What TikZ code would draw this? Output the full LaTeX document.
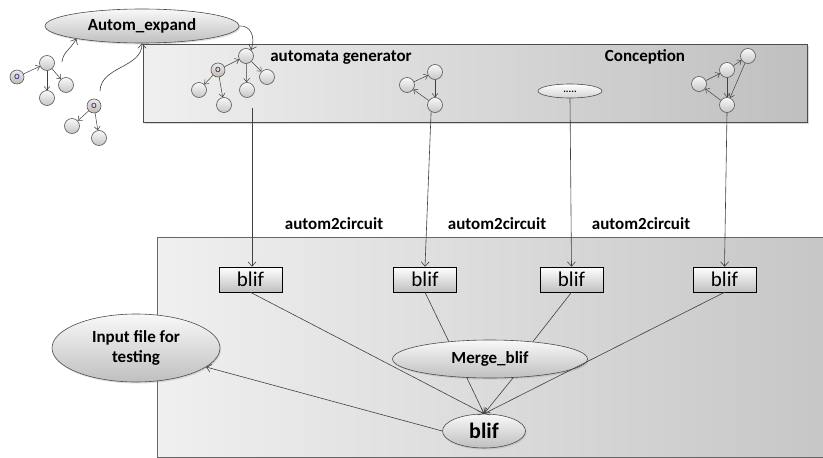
\documentclass[tikz,border=0pt]{standalone}
\usepackage{fontspec}
\setmainfont{Carlito}
\usetikzlibrary{shapes.geometric,arrows.meta,shadows,calc}
\begin{document}
\begin{tikzpicture}[x=1pt,y=-1pt,
  arr/.style={draw=black!75, line width=0.6pt, -{Straight Barb[length=4.5pt,width=8pt]}},
  ln/.style={draw=black!75, line width=0.6pt},
  st/.style={circle, draw=black!65, line width=0.6pt, top color=gray!5, bottom color=gray!45, minimum size=15pt, inner sep=0pt},
  ostate/.style={st, top color=gray!15, bottom color=brown!30!gray!55, minimum size=14pt, text=blue!45!black, font=\fontsize{8}{8}\selectfont},
  sarr/.style={draw=black!75, line width=0.5pt, -{Straight Barb[length=3.5pt,width=6pt]}},
  ell/.style={ellipse, draw=black!70, line width=0.6pt, top color=gray!5, bottom color=gray!50, inner sep=0pt, drop shadow={opacity=0.25, shadow xshift=1pt, shadow yshift=-1.5pt}},
  blifbox/.style={rectangle, draw=black, line width=0.6pt, top color=white, bottom color=gray!50, minimum width=63pt, minimum height=25pt, inner sep=0pt, font=\fontsize{21}{21}\selectfont},
  lbl/.style={font=\fontsize{17}{20}\selectfont\bfseries},
  panel/.style={rectangle, draw=black!70, line width=0.8pt, inner sep=0pt, drop shadow={opacity=0.3, shadow xshift=1.5pt, shadow yshift=-1.5pt}}
]
\useasboundingbox (0,0) rectangle (823,458);
\clip (0,0) rectangle (823,458);
\fill[white] (0,0) rectangle (823,458);

% panels
\node[panel, left color=gray!12, right color=gray!50, minimum width=664pt, minimum height=78pt] (conc) at (475,83) {};
\node[panel, draw=black!60, left color=gray!12, right color=gray!45, minimum width=680pt, minimum height=220pt] (circ) at (497,347) {};

% Autom_expand
\node[ell, minimum width=194pt, minimum height=34pt, lbl] (ae) at (142,26) {Autom\_expand};

% outside graph 1
\node[ostate] (o1) at (17,77) {O};
\node[st] (a1) at (47,63) {};
\node[st] (b1) at (47,98) {};
\node[st] (c1) at (66,85) {};
\draw[sarr] (o1) -- (a1);
\draw[sarr] (a1) -- (b1);
\draw[sarr] (a1) -- (c1);

% outside graph 2
\node[ostate] (o2) at (94,106) {O};
\node[st] (d2) at (72,126) {};
\node[st] (e2) at (99,138) {};
\draw[sarr] (o2) -- (d2);
\draw[sarr] (o2) -- (e2);

% curves into Autom_expand
\coordinate (s1) at (62,62);
\coordinate (s2) at (100,91);
\draw[arr] (s1) .. controls (63,52) and (70,50) .. (ae.191);
\draw[arr] (s2) .. controls (101,66) and (142,68) .. (ae.south);

% graph in box
\node[st] (f) at (246,56) {};
\node[ostate] (o3) at (218,70) {O};
\node[st] (g) at (199,90) {};
\node[st] (h) at (224,105) {};
\node[st] (i) at (247,90) {};
\node[st] (j) at (267,77) {};
\draw[sarr] (o3) -- (f);
\draw[sarr] (o3) -- (g);
\draw[sarr] (o3) -- (h);
\draw[sarr] (f) -- (i);
\draw[sarr] (f) -- (j);
\draw[arr] (ae.east) .. controls (250,25) and (256,36) .. (f.50);

% graph 2
\node[st] (k) at (407,85) {};
\node[st] (l) at (435,72) {};
\node[st] (m) at (435,105) {};
\draw[sarr] (k) -- (l);
\draw[sarr] (l) -- (m);
\draw[sarr] (m) -- (k);

% dots ellipse
\node[ellipse, draw=black!70, line width=0.6pt, top color=white, bottom color=gray!35, minimum width=64pt, minimum height=14pt, inner sep=0pt, font=\fontsize{10}{10}\selectfont\bfseries] (dots) at (570,91) {\raisebox{-4pt}{.....}};

% graph 4
\node[st] (n) at (699,84) {};
\node[st] (p) at (727,70) {};
\node[st] (q) at (748,56) {};
\node[st] (r) at (727,105) {};
\draw[sarr] (n) -- (p);
\draw[sarr] (p) -- (q);
\draw[sarr] (p) -- (r);
\draw[sarr] (q) -- (r);
\draw[sarr] (r) -- (n);

% titles
\node[lbl] (gen) at (341,58) {automata generator};
\node[lbl] (cpt) at (645,57) {Conception};
\node[lbl] (t1) at (334,224) {autom2circuit};
\node[lbl] (t2) at (497,224) {autom2circuit};
\node[lbl] (t3) at (641,224) {autom2circuit};

% blif boxes
\node[blifbox] (bl1) at (250.5,279.5) {blif};
\node[blifbox] (bl2) at (425,279.5) {blif};
\node[blifbox] (bl3) at (571.5,279.5) {blif};
\node[blifbox] (bl4) at (724.5,279.5) {blif};

% ellipses in lower panel
\node[ell, minimum width=168pt, minimum height=68pt, lbl, align=center] (inp) at (136,348) {Input file for\\testing};
\node[ell, minimum width=195pt, minimum height=38pt, lbl] (mg) at (490,359) {Merge\_blif};
\node[ell, minimum width=83pt, minimum height=34pt, font=\fontsize{22}{22}\selectfont\bfseries] (bb) at (484,431) {blif};

% vertical connectors
\coordinate (v1) at (252,108);
\draw[arr] (v1) -- (v1 |- bl1.north);
\draw[arr] (m.240) -- (bl2.north);
\draw[arr] (dots.south) -- (bl3.north);
\draw[arr] (r.south) -- (bl4.north);

% lower connectors
\draw[arr] (bl1.south) -- (bb.north);
\draw[ln] (bl2.south) -- (mg.157);
\draw[ln] (bl3.south) -- (mg.22);
\draw[arr] (mg.219) -- (bb.north);
\draw[arr] (mg.321) -- (bb.north);
\draw[arr] (bl4.south) -- (bb.north);
\draw[arr] (bb.west) -- (inp);
\end{tikzpicture}
\end{document}
